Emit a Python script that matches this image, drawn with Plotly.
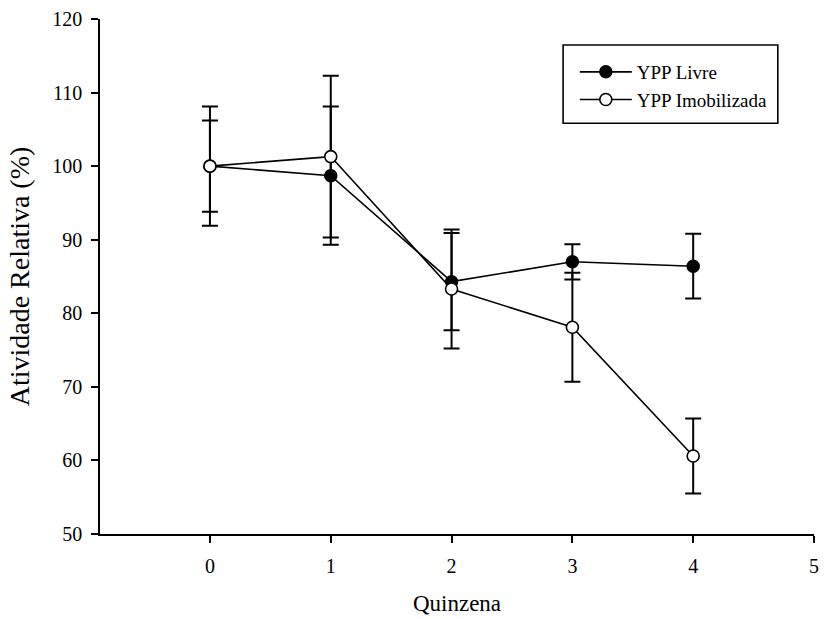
import plotly.graph_objects as go

# Relative activity of YPP (free vs. immobilized) over fortnights
quinzena = [0, 1, 2, 3, 4]
livre = [100.0, 98.7, 84.3, 87.0, 86.4]
livre_err = [6.2, 9.4, 6.6, 2.4, 4.4]
imob = [100.0, 101.3, 83.3, 78.1, 60.6]
imob_err = [8.1, 11.0, 8.1, 7.4, 5.1]
x_ticks = [0, 1, 2, 3, 4, 5]
y_ticks = [50, 60, 70, 80, 90, 100, 110, 120]

FONT = "'Liberation Serif', 'Times New Roman', serif"

fig = go.Figure()

fig.add_trace(go.Scatter(
    x=quinzena, y=livre, name="YPP Livre", mode="lines+markers",
    line=dict(color="black", width=1.6),
    marker=dict(symbol="circle", size=12, color="black",
                line=dict(color="black", width=1.5)),
    error_y=dict(type="data", array=livre_err, visible=True,
                 color="black", thickness=2, width=8),
))
fig.add_trace(go.Scatter(
    x=quinzena, y=imob, name="YPP Imobilizada", mode="lines+markers",
    line=dict(color="black", width=1.6),
    marker=dict(symbol="circle", size=12, color="white",
                line=dict(color="black", width=1.6)),
    error_y=dict(type="data", array=imob_err, visible=True,
                 color="black", thickness=2, width=8),
))

# legend frame
fig.add_shape(type="rect", xref="paper", yref="paper",
              x0=0.6486, x1=0.9493, y0=0.7976, y1=0.9496,
              line=dict(color="black", width=1.6), fillcolor="white",
              layer="below")

fig.update_layout(
    width=825, height=619,
    margin=dict(l=100, r=6, t=19, b=85),
    paper_bgcolor="white", plot_bgcolor="white",
    font=dict(family=FONT, size=20, color="black"),
    showlegend=True,
    legend=dict(x=0.665, y=0.934, xanchor="left", yanchor="top",
                bgcolor="rgba(0,0,0,0)", borderwidth=0,
                font=dict(family=FONT, size=19, color="black"),
                itemwidth=52, tracegroupgap=0),
    xaxis=dict(range=[-0.91, 5.0], tickmode="array", tickvals=x_ticks,
               showgrid=False, zeroline=False, showline=True,
               linecolor="black", linewidth=1.6,
               ticks="outside", ticklen=7, tickwidth=1.6, tickcolor="black",
               ticklabelstandoff=6, tickfont=dict(family=FONT, size=20),
               title=dict(text="Quinzena", font=dict(family=FONT, size=23),
                          standoff=19)),
    yaxis=dict(range=[50, 120], tickmode="array", tickvals=y_ticks,
               showgrid=False, zeroline=False, showline=True,
               linecolor="black", linewidth=1.6,
               ticks="outside", ticklen=7, tickwidth=1.6, tickcolor="black",
               ticklabelstandoff=5, tickfont=dict(family=FONT, size=20),
               title=dict(text="Atividade Relativa (%)",
                          font=dict(family=FONT, size=28), standoff=14)),
)

fig.write_html("out.html")
